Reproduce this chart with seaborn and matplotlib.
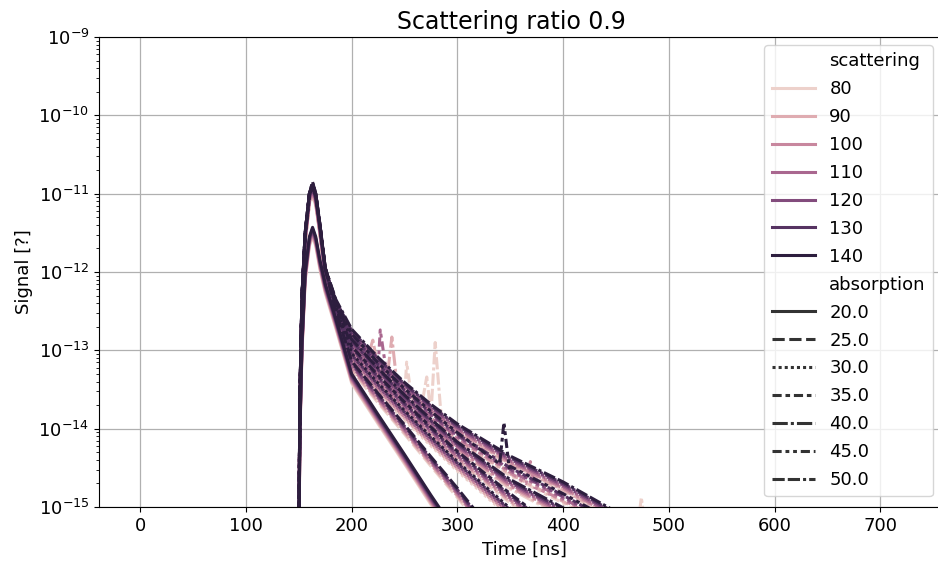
import numpy as np
import pandas as pd
import seaborn as sns
import matplotlib.pyplot as plt

# time knots (ns)
times = [0, 149, 150, 151, 153, 156, 160, 163, 166, 170, 175, 185, 200,
         225, 250, 275, 300, 350, 400, 450, 500, 720]

# log10(signal) per absorption at the knots (None = no signal yet)
abs_20 = [None, None, -15.6, -14.0, -12.9, -12.0, -11.55, -11.43, -11.55, -11.85, -12.15, -12.6,
          -13.3, -13.82, -14.33, -14.85, -15.35, -16.1, -16.8, -17.5, -18.0, -20.0]
abs_25 = [None, None, -15.6, -13.6, -12.3, -11.5, -11.0, -10.85, -11.0, -11.4, -11.95, -12.5,
          -13.14, -13.55, -13.95, -14.36, -14.76, -15.6, -16.4, -17.2, -18.0, -20.0]
abs_30 = [None, None, -15.6, -13.6, -12.3, -11.5, -11.0, -10.85, -11.0, -11.4, -11.95, -12.45,
          -13.04, -13.42, -13.77, -14.10, -14.42, -15.02, -15.7, -16.4, -17.1, -20.0]
abs_35 = [None, None, -15.6, -13.6, -12.3, -11.5, -11.0, -10.87, -11.0, -11.4, -11.95, -12.42,
          -12.95, -13.32, -13.66, -13.98, -14.29, -14.83, -15.35, -15.9, -16.5, -19.0]
abs_40 = [None, None, -15.6, -13.6, -12.3, -11.5, -11.0, -10.88, -11.0, -11.4, -11.95, -12.38,
          -12.86, -13.23, -13.57, -13.88, -14.17, -14.65, -15.01, -15.5, -16.0, -18.5]
abs_45 = [None, None, -15.6, -13.6, -12.3, -11.5, -11.0, -10.9, -11.02, -11.4, -11.95, -12.36,
          -12.79, -13.16, -13.49, -13.78, -14.05, -14.48, -14.83, -15.2, -15.6, -18.0]
abs_50 = [None, None, -15.6, -13.6, -12.3, -11.5, -11.0, -10.92, -11.03, -11.4, -11.95, -12.35,
          -12.73, -13.09, -13.41, -13.69, -13.94, -14.35, -14.68, -15.06, -15.5, -18.0]

absorption = [20.0, 25.0, 30.0, 35.0, 40.0, 45.0, 50.0]
profiles = [abs_20, abs_25, abs_30, abs_35, abs_40, abs_45, abs_50]

scattering = [80, 90, 100, 110, 120, 130, 140]
# lighter curves sit a little under the dark ones
scat_shift = [-0.12, -0.10, -0.08, -0.06, -0.04, -0.02, 0.0]

# isolated spikes: (scattering, absorption, time, log10 signal)
spikes = [(110, 45.0, 222, -13.05), (110, 45.0, 227, -12.74), (110, 45.0, 232, -13.2),
          (90, 50.0, 216, -13.05), (90, 50.0, 220, -12.87), (90, 50.0, 224, -13.15),
          (90, 40.0, 234, -13.3), (90, 40.0, 238, -12.83), (90, 40.0, 243, -13.45),
          (80, 45.0, 247, -13.55), (80, 45.0, 252, -13.15), (80, 45.0, 257, -13.65),
          (80, 50.0, 266, -13.72), (80, 50.0, 271, -13.34),
          (80, 50.0, 279, -12.9), (80, 50.0, 285, -13.9),
          (140, 45.0, 340, -14.45), (140, 45.0, 344, -13.92), (140, 45.0, 349, -14.5),
          (100, 45.0, 365, -14.7), (100, 45.0, 369, -14.42), (100, 45.0, 373, -14.75),
          (80, 50.0, 470, -15.3), (80, 50.0, 474, -14.88), (80, 50.0, 478, -15.3)]

rows = []
for sc, sh in zip(scattering, scat_shift):
    for ab, prof in zip(absorption, profiles):
        for t, v in zip(times, prof):
            sig = 0.0 if v is None else 10 ** (v + sh)
            rows.append((sc, ab, t, sig))
for sc, ab, t, v in spikes:
    rows.append((sc, ab, t, 10 ** v))
df = pd.DataFrame(rows, columns=['scattering', 'absorption', 'Time [ns]', 'Signal [?]'])

fig = plt.figure(figsize=(9.38, 5.65), dpi=100)
# the right edge of the axes falls just outside the picture, as in the reference
ax = fig.add_axes([99 / 938, 58 / 565, 850 / 938, 470 / 565])
sns.lineplot(data=df, x='Time [ns]', y='Signal [?]', hue='scattering', style='absorption',
             legend='full', lw=2.2, estimator=None, ax=ax)
ax.set_yscale('log')
ax.set_ylim(1e-15, 1e-9)
ax.set_xlim(-39, 765)
ax.grid(True, color='#b0b0b0', lw=0.9)
ax.set_axisbelow(True)
ax.tick_params(labelsize=13)
ax.set_xlabel('Time [ns]', fontsize=13)
ax.set_ylabel('Signal [?]', fontsize=13)
ax.set_title('Scattering ratio 0.9', fontsize=17, x=0.485)
ax.legend(loc='upper right', bbox_to_anchor=(933 / 938, 1 - 45 / 565),
          bbox_transform=fig.transFigure, borderaxespad=0,
          fontsize=13, handlelength=2.4, labelspacing=0.55)

fig.savefig('out.png', dpi=100)
